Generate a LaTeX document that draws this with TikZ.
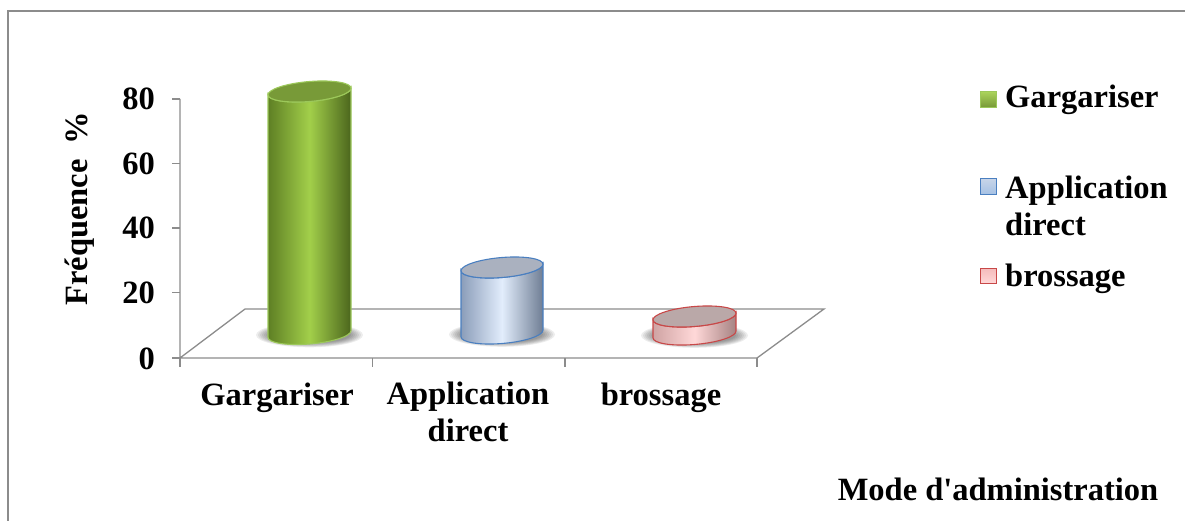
\documentclass[tikz,border=0pt]{standalone}
\usepackage{fontspec}
\setmainfont{Liberation Serif}[Ligatures=TeXOff]
\definecolor{axisgray}{HTML}{8C8C8C}
\definecolor{gEdge}{HTML}{5E7F24}
\definecolor{gMid}{HTML}{A2CF4A}
\definecolor{gTop}{HTML}{789A38}
\definecolor{gBord}{HTML}{9CC85A}
\definecolor{bEdge}{HTML}{8B9DB9}
\definecolor{bMid}{HTML}{E2EDFC}
\definecolor{bTop}{HTML}{AAB1BF}
\definecolor{bBord}{HTML}{4A7FC0}
\definecolor{rEdge}{HTML}{CFA3A3}
\definecolor{rMid}{HTML}{FFD8D8}
\definecolor{rTop}{HTML}{BAA8A8}
\definecolor{rBord}{HTML}{C84848}
\newcommand{\drawcyl}[8]{%
  % #1 cx, #2 top y, #3 bottom y, #4 edge, #5 mid, #6 top, #7 border, #8 rx
  \foreach \k in {1,...,7}{%
    \fill[black, opacity=0.07] (#1,#3+1) ellipse [x radius={#8+14-2*\k}, y radius={13-0.7*\k}];
  }
  \begin{scope}[shift={(#1,0)}, yslant=0.08]
    \path[left color=#4, right color=#4!80!black, middle color=#5, draw=#7, line width=1.1pt]
      (-#8,#2) -- (-#8,#3) arc[start angle=180, end angle=0, x radius=#8, y radius=10]
      -- (#8,#2) arc[start angle=0, end angle=180, x radius=#8, y radius=10] -- cycle;
    \path[fill=#6, draw=#7, line width=1.1pt] (0,#2) ellipse [x radius=#8, y radius=10];
  \end{scope}
}
\begin{document}
\begin{tikzpicture}[x=1pt, y=-1pt,
  axisline/.style={draw=axisgray, line width=1.3pt},
  lbl/.style={font=\fontsize{32.5}{37}\selectfont\bfseries, inner sep=0pt, text=black},
  legsq/.style={line width=0.9pt}]
\useasboundingbox (0,0) rectangle (1185,521);
% frame
\draw[axisgray, line width=1.2pt] (8,521) -- (8,11) -- (1185,11);
% floor and axes
\coordinate (o) at (180,358);
\coordinate (bl) at (245,309);
\coordinate (br) at (824,309);
\coordinate (fr) at (757,358);
\coordinate (ytop) at (180,99);
\draw[axisline] (ytop) -- (o) -- (bl) -- (br) -- (fr) -- (o);
\foreach \yy in {99,163.5,228,292.5,358}{\draw[axisline] (172,\yy) -- (180,\yy);}
\foreach \xx in {180,372.5,565,757}{\draw[axisline] (\xx,358) -- (\xx,367);}
% cylinders
\drawcyl{309.5}{91.5}{334}{gEdge}{gMid}{gTop}{gBord}{41.5}
\drawcyl{502}{267.5}{333.5}{bEdge}{bMid}{bTop}{bBord}{41}
\drawcyl{694.5}{316.5}{334.5}{rEdge}{rMid}{rTop}{rBord}{41.5}
% y labels
\node[lbl, anchor=base east] (n80) at (155,110) {80};
\node[lbl, anchor=base east] (n60) at (155,174.5) {60};
\node[lbl, anchor=base east] (n40) at (155,239) {40};
\node[lbl, anchor=base east] (n20) at (155,303.5) {20};
\node[lbl, anchor=base east] (n0) at (155,369) {0};
\node[lbl, rotate=90] (ytitle) at (80,209) {Fréquence\hspace{0.45em}\%};
% category labels
\node[lbl, anchor=base] (c1) at (277,405) {Gargariser};
\node[lbl, anchor=north, align=center] (c2) at (468,382) {Application\\direct};
\node[lbl, anchor=base] (c3) at (661,405) {brossage};
\node[lbl, anchor=base] (xtitle) at (998,500) {Mode d'administration};
% legend
\path[legsq, top color=gMid!90!white, bottom color=gTop, draw=gBord] (980.5,91.5) rectangle (996.5,107) coordinate (sq1);
\path[legsq, top color=bMid!70!bEdge, bottom color=bMid!60!bBord, draw=bBord] (980.5,178.5) rectangle (996.5,194.5) coordinate (sq2);
\path[legsq, top color=rMid!80!rBord, bottom color=rMid, draw=rBord] (980.5,268) rectangle (996.5,283.5) coordinate (sq3);
\node[lbl, anchor=base west] (l1) at (1005,108) {Gargariser};
\node[lbl, anchor=north west, align=left] (l2) at (1005,176) {Application\\direct};
\node[lbl, anchor=base west] (l3) at (1005,287) {brossage};
\end{tikzpicture}
\end{document}
